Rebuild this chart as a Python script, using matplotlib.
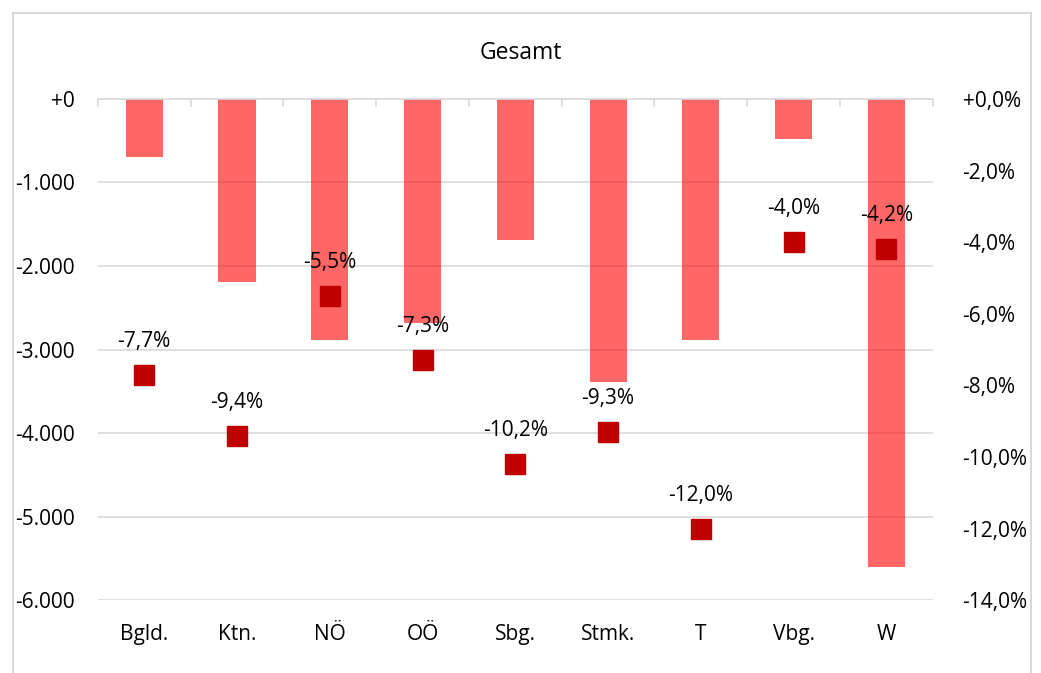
import numpy as np
import matplotlib.pyplot as plt
import matplotlib.ticker as mticker
from matplotlib.patches import Rectangle

plt.rcParams['font.family'] = ['Open Sans', 'DejaVu Sans']

# Data
regions = ['Bgld.', 'Ktn.', 'NÖ', 'OÖ', 'Sbg.', 'Stmk.', 'T', 'Vbg.', 'W']
change_abs = [-690, -2190, -2890, -2680, -1690, -3390, -2890, -480, -5600]
change_pct = [-7.7, -9.4, -5.5, -7.3, -10.2, -9.3, -12.0, -4.0, -4.2]

grid_col = '#D9D9D9'
x = np.arange(len(regions))

fig = plt.figure(figsize=(10.41, 6.73), dpi=100)
ax = fig.add_axes([0.094, 0.108, 0.802, 0.745])
ax2 = ax.twinx()

# bars (absolute change, left axis)
ax.bar(x, change_abs, width=0.4, color='red', alpha=0.6, zorder=2)
ax.set_xlim(-0.5, len(regions) - 0.5)
ax.set_ylim(-6000, 0)
ax.set_yticks(np.arange(-6000, 1, 1000))


def fmt_abs(v, pos):
    if v == 0:
        return '+0'
    return '-' + f'{abs(v):,.0f}'.replace(',', '.')


ax.yaxis.set_major_formatter(mticker.FuncFormatter(fmt_abs))
ax.grid(axis='y', color=grid_col, linewidth=1.2, zorder=0)
ax.set_axisbelow(True)

# categories, tick marks between them on the zero line
ax.set_xticks(x)
ax.set_xticklabels(regions)
ax.set_xticks(np.arange(-0.5, len(regions), 1), minor=True)
ax.tick_params(axis='x', which='major', length=0, pad=17, labelsize=15)
ax.tick_params(axis='x', which='minor', bottom=False, top=True, direction='in',
               length=6, color=grid_col, width=1.2)
ax.tick_params(axis='y', length=0, labelsize=15, pad=16.5)

for s in ['left', 'right', 'bottom']:
    ax.spines[s].set_visible(False)
ax.spines['top'].set_color(grid_col)
ax.spines['top'].set_linewidth(1.2)

# markers (percentage change, right axis)
ax2.plot(x, change_pct, linestyle='none', marker='s', markersize=14,
         color='#C00000', zorder=3)
ax2.set_ylim(-14, 0)
ax2.set_yticks(np.arange(-14, 0.1, 2))


def fmt_pct(v, pos):
    s = f'{abs(v):.1f}'.replace('.', ',') + '%'
    return ('+' if v >= 0 else '-') + s


ax2.yaxis.set_major_formatter(mticker.FuncFormatter(fmt_pct))
ax2.tick_params(axis='y', length=0, labelsize=15, pad=21.5)
for s in ax2.spines.values():
    s.set_visible(False)

for xi, p in zip(x, change_pct):
    ax2.annotate(fmt_pct(p, None), (xi, p), xytext=(0, 16.5),
                 textcoords='offset points', ha='center', va='bottom',
                 fontsize=15)

fig.text(0.5, 1 - 53 / 673, 'Gesamt', ha='center', va='center', fontsize=16.5)

# chart border
fig.patches.append(Rectangle((13 / 1041, -0.05), 1018 / 1041, 1.05 - 13 / 673,
                             transform=fig.transFigure, fill=False,
                             edgecolor=grid_col, linewidth=1.5))

fig.savefig('out.png', dpi=100)
